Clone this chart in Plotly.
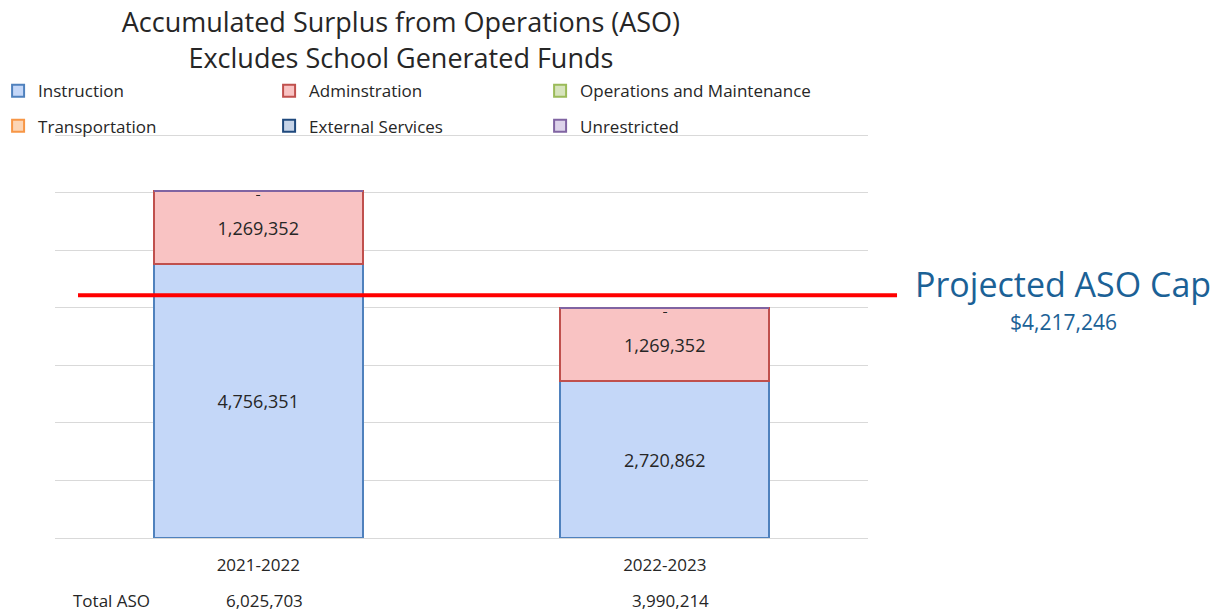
import plotly.graph_objects as go

# ---------------- data ----------------
categories = ["2021-2022", "2022-2023"]
instruction = [4756351, 2720862]
administration = [1269352, 1269352]
operations_maintenance = [0, 0]
transportation = [0, 0]
external_services = [0, 0]
unrestricted = [0, 0]
aso_cap = 4217246
y_tick_values = [0, 1000000, 2000000, 3000000, 4000000, 5000000, 6000000, 7000000]

series = [
    ("Instruction", instruction, "#c4d7f8", "#4f81bd", "legend"),
    ("Adminstration", administration, "#f9c3c3", "#c0504d", "legend"),
    ("Operations and Maintenance", operations_maintenance, "#d7e4bd", "#9bbb59", "legend"),
    ("Transportation", transportation, "#fcd5b5", "#f79646", "legend2"),
    ("External Services", external_services, "#c6d4e8", "#1f497d", "legend2"),
    ("Unrestricted", unrestricted, "#ddd3ea", "#8064a2", "legend2"),
]

FONT = "Open Sans"
TEXT = "#262626"

fig = go.Figure()
for name, vals, fill, line, leg in series:
    fig.add_trace(go.Bar(
        x=categories, y=vals, name=name,
        marker=dict(color=fill, line=dict(color=line, width=2)),
        text=[f"{v:,}" if v else "" for v in vals],
        textposition="inside", insidetextanchor="middle",
        textfont=dict(family=FONT, size=18, color=TEXT),
        legend=leg, hoverinfo="x+y+name",
    ))

totals = [sum(s[1][i] for s in series) for i in range(len(categories))]

annotations = []
# "-" labels for zero-valued segments, sitting at top of each stack
for name, vals, fill, line, leg in series:
    for i, v in enumerate(vals):
        if v == 0:
            annotations.append(dict(x=categories[i], y=totals[i], xref="x", yref="y",
                                    text="-", showarrow=False, yanchor="top", yshift=8,
                                    font=dict(family=FONT, size=13, color=TEXT)))
# Total ASO row
annotations.append(dict(x=0.070, y=-0.154, xref="paper", yref="paper", text="Total ASO",
                        xanchor="center", yanchor="middle",
                        showarrow=False, font=dict(family=FONT, size=17, color=TEXT)))
for i, c in enumerate(categories):
    annotations.append(dict(x=c, y=-0.154, xref="x", yref="paper", text=f"{totals[i]:,}",
                            xanchor="center", yanchor="middle", xshift=6,
                            showarrow=False, font=dict(family=FONT, size=17, color=TEXT)))
# Cap labels
annotations.append(dict(x=1.240, y=aso_cap, xref="paper", yref="y", text="Projected ASO Cap",
                        xanchor="center", yanchor="middle", yshift=11,
                        showarrow=False, font=dict(family=FONT, size=34, color="#1b6196")))
annotations.append(dict(x=1.240, y=aso_cap, xref="paper", yref="y", text=f"${aso_cap:,}",
                        xanchor="center", yanchor="middle", yshift=-27,
                        showarrow=False, font=dict(family=FONT, size=21, color="#1b6196")))

fig.update_layout(
    width=1226, height=613,
    margin=dict(l=55, r=358, t=134, b=75, autoexpand=False),
    paper_bgcolor="white", plot_bgcolor="white",
    barmode="stack", bargap=0.486,
    font=dict(family=FONT, color=TEXT),
    title=dict(text="Accumulated Surplus from Operations (ASO)<br>Excludes School Generated Funds",
               x=0.327, xanchor="center", y=0.947, yanchor="middle",
               font=dict(family=FONT, size=27, color="#262626")),
    legend=dict(orientation="h", x=-0.070, xanchor="left", y=1.106, yanchor="middle",
                traceorder="normal", entrywidth=226, font=dict(family=FONT, size=17, color=TEXT),
                bgcolor="rgba(0,0,0,0)"),
    legend2=dict(orientation="h", x=-0.070, xanchor="left", y=1.019, yanchor="middle",
                 traceorder="normal", entrywidth=226, font=dict(family=FONT, size=17, color=TEXT),
                 bgcolor="rgba(0,0,0,0)"),
    xaxis=dict(showgrid=False, showline=False, ticks="outside", ticklen=12,
               tickcolor="rgba(0,0,0,0)", tickfont=dict(family=FONT, size=17, color=TEXT)),
    yaxis=dict(range=[0, 7020000], tickvals=y_tick_values, showticklabels=False,
               showgrid=True, gridcolor="#d9d9d9", gridwidth=1,
               zeroline=True, zerolinecolor="#d9d9d9", zerolinewidth=1, showline=False),
    shapes=[dict(type="line", xref="paper", yref="y", x0=0.0283, x1=1.0357,
                 y0=aso_cap, y1=aso_cap, line=dict(color="#ff0000", width=4))],
    annotations=annotations,
    showlegend=True,
)

fig.write_html("out.html")
